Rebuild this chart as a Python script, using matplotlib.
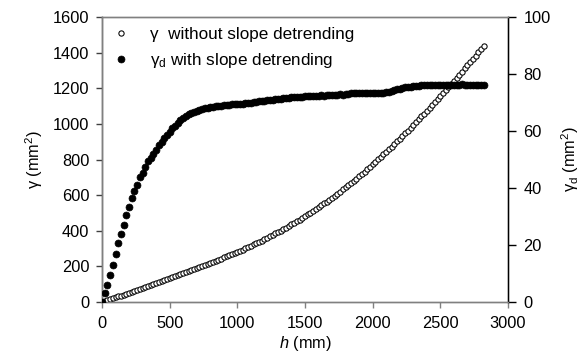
import matplotlib
matplotlib.use("Agg")
import matplotlib.pyplot as plt

plt.rcParams['font.family'] = ['Liberation Sans', 'DejaVu Sans']
plt.rcParams['mathtext.fontset'] = 'custom'
plt.rcParams['mathtext.rm'] = 'Liberation Sans'
plt.rcParams['mathtext.it'] = 'Liberation Sans:italic'

h = [0, 20, 40, 60, 80, 100, 120, 140, 160, 180, 200, 220, 240, 260, 280, 300, 320, 340, 360, 380,
     400, 420, 440, 460, 480, 500, 520, 540, 560, 580, 600, 620, 640, 660, 680, 700, 720, 740, 760, 780,
     800, 820, 840, 860, 880, 900, 920, 940, 960, 980, 1000, 1020, 1040, 1060, 1080, 1100, 1120, 1140, 1160, 1180,
     1200, 1220, 1240, 1260, 1280, 1300, 1320, 1340, 1360, 1380, 1400, 1420, 1440, 1460, 1480, 1500, 1520, 1540, 1560, 1580,
     1600, 1620, 1640, 1660, 1680, 1700, 1720, 1740, 1760, 1780, 1800, 1820, 1840, 1860, 1880, 1900, 1920, 1940, 1960, 1980,
     2000, 2020, 2040, 2060, 2080, 2100, 2120, 2140, 2160, 2180, 2200, 2220, 2240, 2260, 2280, 2300, 2320, 2340, 2360, 2380,
     2400, 2420, 2440, 2460, 2480, 2500, 2520, 2540, 2560, 2580, 2600, 2620, 2640, 2660, 2680, 2700, 2720, 2740, 2760, 2780,
     2800, 2820]

gamma = [0, 5, 10, 16, 21, 26, 31, 36, 42, 47, 52, 57, 62, 68, 73, 79, 84, 90, 95, 101,
         106, 112, 117, 123, 128, 134, 140, 145, 151, 156, 162, 168, 173, 179, 185, 190, 196, 202, 208, 214,
         220, 226, 232, 238, 244, 250, 256, 262, 268, 274, 280, 287, 294, 301, 308, 315, 323, 330, 338, 345,
         353, 361, 369, 377, 385, 393, 401, 410, 418, 427, 436, 445, 454, 463, 472, 482, 492, 502, 512, 522,
         532, 543, 553, 564, 575, 586, 597, 609, 620, 632, 644, 656, 668, 680, 693, 705, 718, 731, 744, 757,
         773, 787, 801, 815, 829, 843, 858, 872, 887, 902, 917, 932, 947, 962, 978, 994, 1010, 1026, 1042, 1058,
         1074, 1091, 1107, 1124, 1140, 1157, 1174, 1191, 1208, 1225, 1242, 1259, 1277, 1294, 1312, 1330, 1347, 1365, 1383, 1401,
         1419, 1437]

gamma_d = [0, 3.3, 6.0, 9.3, 13.1, 16.9, 20.8, 24.0, 27.0, 30.4, 33.5, 36.5, 38.8, 41.2, 43.7, 45.4, 47.2, 49.3, 50.5, 52.0,
           53.5, 55.0, 56.3, 57.5, 58.7, 59.8, 60.9, 61.9, 62.9, 63.8, 64.6, 65.3, 65.9, 66.4, 66.8, 67.1, 67.4, 67.7, 67.9, 68.1,
           68.3, 68.5, 68.6, 68.8, 68.9, 69.0, 69.1, 69.2, 69.3, 69.4, 69.5, 69.6, 69.6, 69.8, 69.9, 70.0, 70.1, 70.2, 70.4, 70.5,
           70.7, 70.8, 70.9, 71.0, 71.1, 71.3, 71.4, 71.5, 71.6, 71.7, 71.8, 71.9, 72.0, 72.1, 72.1, 72.2, 72.2, 72.3, 72.2, 72.4,
           72.3, 72.5, 72.4, 72.6, 72.5, 72.7, 72.6, 72.8, 72.9, 72.8, 73.0, 73.1, 73.4, 73.2, 73.5, 73.3, 73.4, 73.2, 73.5, 73.3,
           73.4, 73.2, 73.5, 73.3, 73.4, 73.6, 73.8, 74.1, 74.4, 74.7, 74.9, 75.1, 75.3, 75.4, 75.6, 75.7, 75.8, 75.9, 76.0, 76.0,
           76.1, 76.0, 76.1, 76.2, 76.1, 76.2, 76.1, 76.3, 76.2, 76.3, 76.2, 76.3, 76.2, 76.4, 76.3, 76.2, 76.3, 76.2, 76.3, 76.2,
           76.3, 76.2]

x_ticks = [0, 500, 1000, 1500, 2000, 2500, 3000]
left_ticks = [0, 200, 400, 600, 800, 1000, 1200, 1400, 1600]
right_ticks = [0, 20, 40, 60, 80, 100]

FS = 11.8

fig = plt.figure(figsize=(5.85, 3.6), dpi=100)
ax = fig.add_axes([102/585, 1 - 302/360, (508 - 102)/585, (302 - 17)/360])
ax2 = ax.twinx()

gray = '#808080'
l1, = ax.plot(h, gamma, linestyle='none', marker='o', markersize=3.8,
              markerfacecolor='white', markeredgecolor='black', markeredgewidth=0.75,
              label='γ  without slope detrending', zorder=3)
l2, = ax2.plot(h, gamma_d, linestyle='none', marker='o', markersize=5.0,
               markerfacecolor='black', markeredgecolor='black', markeredgewidth=0.5,
               label='γ$_\\mathrm{d}$ with slope detrending', zorder=3)

ax.set_xlim(0, 3000)
ax.set_ylim(0, 1600)
ax2.set_ylim(0, 100)
ax.set_xticks(x_ticks)
ax.set_yticks(left_ticks)
ax2.set_yticks(right_ticks)

for a in (ax, ax2):
    for s in a.spines.values():
        s.set_color(gray)
        s.set_linewidth(1.0)
ax2.spines['right'].set_color('black')
ax.spines['left'].set_color('#404040')

ax.tick_params(axis='x', direction='out', length=4, width=1, color=gray,
               labelcolor='black', labelsize=FS, pad=6)
ax.tick_params(axis='y', direction='out', length=4, width=1, color='#404040',
               labelcolor='black', labelsize=FS, pad=5)
ax2.tick_params(axis='y', direction='out', length=6, width=1, colors='black',
                labelsize=FS, pad=5)

ax.set_xlabel('$h$ (mm)', fontsize=FS, labelpad=2)
ax.set_ylabel('γ (mm$^2$)', fontsize=FS, labelpad=6)
ax2.set_ylabel('γ$_\\mathrm{d}$ (mm$^2$)', fontsize=FS, labelpad=6, rotation=90)

leg = ax.legend(handles=[l1, l2], loc='upper left', frameon=False, fontsize=12.3,
                handletextpad=1.2, labelspacing=0.5, borderaxespad=0.2,
                handlelength=1.0, bbox_to_anchor=(0.0, 1.0))

fig.savefig('out.png', dpi=100)
